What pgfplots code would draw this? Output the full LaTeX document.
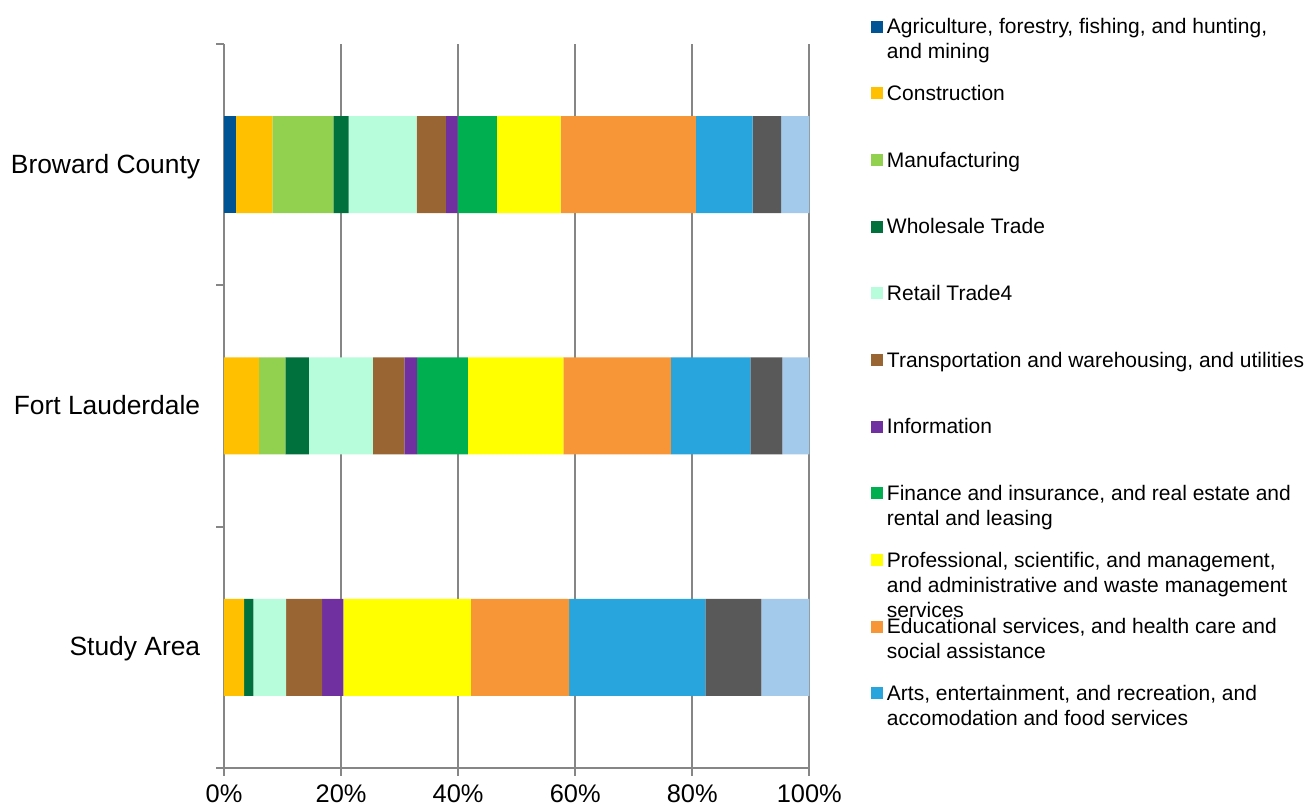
\documentclass[border=0pt]{standalone}
\usepackage{pgfplots}
\usepackage{pgfplotstable}
\pgfplotsset{compat=1.18}
\usepackage{fontspec}
\setmainfont{Liberation Sans}

\definecolor{cAgri}{RGB}{0,84,147}
\definecolor{cCons}{RGB}{255,192,0}
\definecolor{cManu}{RGB}{146,208,80}
\definecolor{cWhol}{RGB}{0,112,60}
\definecolor{cReta}{RGB}{183,252,219}
\definecolor{cTran}{RGB}{153,102,51}
\definecolor{cInfo}{RGB}{112,48,160}
\definecolor{cFina}{RGB}{0,176,80}
\definecolor{cProf}{RGB}{255,255,0}
\definecolor{cEduc}{RGB}{247,150,54}
\definecolor{cArts}{RGB}{41,165,222}
\definecolor{cOthe}{RGB}{89,89,89}
\definecolor{cPubl}{RGB}{164,202,235}
\definecolor{gridgray}{RGB}{134,134,134}

\pgfplotstableread{
y Agri Cons Manu Whol Reta Tran Info Fina Prof Educ Arts Othe Publ
0 0 3.45 0 1.55 5.6 6.15 3.65 0 21.8 16.75 23.3 9.55 8.2
1 0 6.0 4.5 4.0 10.95 5.35 2.2 8.65 16.35 18.35 13.6 5.45 4.6
2 2.0 6.25 10.42 2.63 11.6 5.0 2.0 6.7 10.9 23.1 9.7 4.9 4.8
}\datatable

\newcommand{\LE}[1]{\parbox[t][33.33pt][t]{235pt}{\fontsize{10.5}{12.5}\selectfont\strut #1}}

\begin{document}
\begin{tikzpicture}
\useasboundingbox (0,0) rectangle (656.5pt,405pt);
\begin{axis}[
  at={(112pt,21pt)}, anchor=south west,
  width=292.65pt, height=362pt, scale only axis,
  xbar stacked, bar width=48.5pt,
  xmin=0, xmax=100, ymin=-0.5, ymax=2.5,
  xtick={0,20,40,60,80,100},
  xticklabels={0\%,20\%,40\%,60\%,80\%,100\%},
  ytick={-0.5,0.5,1.5,2.5},
  yticklabels={},
  extra y ticks={0,1,2},
  extra y tick labels={Study Area,Fort Lauderdale,Broward County},
  extra y tick style={tick style={draw=none}},
  tick align=outside,
  major tick length=4pt,
  tick style={gridgray, line width=1pt},
  xmajorgrids, ymajorgrids=false,
  grid style={gridgray, line width=1pt},
  axis x line*=bottom, axis y line*=left,
  axis line style={gridgray, line width=1pt, -},
  xticklabel style={font=\fontsize{12.7}{15}\selectfont, inner sep=0pt, anchor=north, yshift=-4.2pt},
  yticklabel style={font=\fontsize{13.2}{15}\selectfont, inner sep=0pt, anchor=base east, yshift=-4.3pt, xshift=-7.7pt},
  legend style={
    at={(1.1054,1.038)}, anchor=north west,
    draw=none, fill=none, inner sep=0pt, outer sep=0pt,
    row sep=0pt, column sep=2pt,
    nodes={inner sep=0pt, text depth=, anchor=base west},
    cells={anchor=base west},
    font=\fontsize{10.5}{12.5}\selectfont,
  },
  legend image code/.code={\fill[#1] (0pt,0.6pt) rectangle (6pt,6.6pt);},
]
\addplot[fill=cAgri, draw=none] table[x=Agri, y=y] {\datatable};
\addlegendentry{\LE{Agriculture, forestry, fishing, and hunting,\newline and mining}}
\addplot[fill=cCons, draw=none] table[x=Cons, y=y] {\datatable};
\addlegendentry{\LE{Construction}}
\addplot[fill=cManu, draw=none] table[x=Manu, y=y] {\datatable};
\addlegendentry{\LE{Manufacturing}}
\addplot[fill=cWhol, draw=none] table[x=Whol, y=y] {\datatable};
\addlegendentry{\LE{Wholesale Trade}}
\addplot[fill=cReta, draw=none] table[x=Reta, y=y] {\datatable};
\addlegendentry{\LE{Retail Trade4}}
\addplot[fill=cTran, draw=none] table[x=Tran, y=y] {\datatable};
\addlegendentry{\LE{Transportation and warehousing, and utilities}}
\addplot[fill=cInfo, draw=none] table[x=Info, y=y] {\datatable};
\addlegendentry{\LE{Information}}
\addplot[fill=cFina, draw=none] table[x=Fina, y=y] {\datatable};
\addlegendentry{\LE{Finance and insurance, and real estate and\newline rental and leasing}}
\addplot[fill=cProf, draw=none] table[x=Prof, y=y] {\datatable};
\addlegendentry{\LE{Professional, scientific, and management,\newline and administrative and waste management\newline services}}
\addplot[fill=cEduc, draw=none] table[x=Educ, y=y] {\datatable};
\addlegendentry{\LE{Educational services, and health care and\newline social assistance}}
\addplot[fill=cArts, draw=none] table[x=Arts, y=y] {\datatable};
\addlegendentry{\LE{Arts, entertainment, and recreation, and\newline accomodation and food services}}
\addplot[fill=cOthe, draw=none] table[x=Othe, y=y] {\datatable};
\addplot[fill=cPubl, draw=none] table[x=Publ, y=y] {\datatable};
\end{axis}
\end{tikzpicture}
\end{document}
